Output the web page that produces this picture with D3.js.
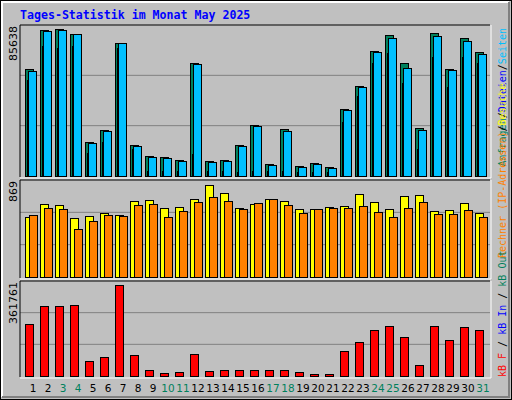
<!DOCTYPE html>
<html><head><meta charset="utf-8">
<script src="https://cdn.jsdelivr.net/npm/d3@7"></script>
<style>body{margin:0;background:#fff}</style>
</head><body>
<div id="chart"></div>
<script>
// daily values
const days = d3.range(1, 32);
const weekend = [3, 4, 10, 11, 17, 18, 24, 25, 31];
const hits = [62300, 85100, 85638, 82700, 19800, 26800, 77500, 18100, 11700, 11100, 9300, 65800, 8700, 9300, 18100, 29700, 7000, 27400, 5800, 7600, 5200, 39000, 52400, 72800, 82100, 65800, 28000, 83300, 62300, 80400, 72200];
const files = [55900, 75700, 74600, 75700, 13400, 19800, 74600, 15700, 2900, 2900, 2900, 12800, 2900, 2900, 2300, 2900, 2900, 2900, 2300, 2300, 2300, 31500, 46600, 65800, 71700, 54200, 15700, 69300, 51900, 69300, 65800];
const pages = [61200, 84500, 85100, 82700, 19200, 26200, 77500, 17500, 11100, 10500, 8700, 65300, 8200, 8700, 17500, 29100, 6400, 26200, 5200, 7000, 4700, 38500, 51900, 72200, 80400, 62900, 26800, 81600, 61800, 78700, 71100];
const visits = [567, 690, 680, 558, 576, 605, 586, 718, 728, 652, 662, 737, 869, 794, 652, 690, 737, 718, 643, 643, 662, 671, 784, 709, 643, 765, 775, 624, 633, 699, 605];
const sites = [586, 652, 643, 454, 529, 586, 576, 680, 690, 567, 624, 709, 756, 718, 643, 699, 737, 680, 605, 643, 652, 652, 671, 614, 567, 652, 709, 595, 595, 633, 567];
const kbytes = [206700, 278300, 278300, 282200, 59600, 75500, 361761, 83500, 23900, 11900, 15900, 87500, 19900, 23900, 23900, 23900, 23900, 23900, 15900, 8000, 8000, 99400, 135200, 182900, 198800, 155000, 43700, 198800, 143100, 194800, 182900];

const W = 512, H = 400;
const svg = d3.select("#chart").append("svg").attr("width", W).attr("height", H);

// frame
svg.append("rect").attr("x", 0).attr("y", 0).attr("width", W).attr("height", H).attr("fill", "#000");
svg.append("rect").attr("x", 1).attr("y", 1).attr("width", W - 2).attr("height", H - 2).attr("fill", "#c0c0c0");
svg.append("path").attr("d", "M2,397V2H509").attr("stroke", "#fff").attr("stroke-width", 2).attr("fill", "none");
svg.append("path").attr("d", "M2,397H509V2").attr("stroke", "#808080").attr("stroke-width", 2).attr("fill", "none");

svg.append("text").attr("x", 20).attr("y", 19)
    .attr("font-family", "DejaVu Sans Mono").attr("font-weight", "bold").attr("font-size", 11.6)
    .attr("fill", "#0000ff").text("Tages-Statistik im Monat May 2025");

const x = d3.scaleBand().domain(days).range([20, 485]);
const left = 20, right = 490;

function panel(top, bottom, maxVal, maxPx, label) {
    const y = d3.scaleLinear().domain([0, maxVal * (bottom - top) / maxPx]).range([bottom, top]);
    svg.append("rect").attr("x", left).attr("y", top).attr("width", right - left).attr("height", bottom - top + 1).attr("fill", "#c0c0c0");
    [1, 2].forEach(i => {
        const gy = bottom - (bottom - top) * i / 3;
        svg.append("line").attr("x1", left).attr("x2", right).attr("y1", gy).attr("y2", gy).attr("stroke", "#808080");
    });
    svg.append("path").attr("d", `M${left},${bottom + 1}V${top}H${right}`).attr("stroke", "#000").attr("fill", "none");
    svg.append("path").attr("d", `M${left},${bottom + 2}H${right + 1}V${top}`).attr("stroke", "#fff").attr("fill", "none");
    svg.append("text").attr("transform", `translate(${left - 3},${top + 1}) rotate(-90)`)
        .attr("text-anchor", "end").attr("font-family", "DejaVu Sans").attr("font-size", 11).attr("fill", "#000").text(label);
    return y;
}

function bars(y, data, dx, w, color) {
    svg.append("g").selectAll("rect").data(data).join("rect")
        .attr("x", (d, i) => x(days[i]) + dx + 0.5)
        .attr("y", d => Math.round(y(d)) + 0.5)
        .attr("width", w)
        .attr("height", d => Math.max(0, y.range()[0] - Math.round(y(d))))
        .attr("fill", color).attr("stroke", "#000");
}

const yTop = panel(25, 176, 85638, 147, "85638");
bars(yTop, hits, 5, 8, "#00805c");
bars(yTop, files, 7, 2, "#0000ff");
bars(yTop, pages, 8, 8, "#00c0ff");

const yMid = panel(180, 277, 869, 92, "869");
bars(yMid, visits, 5, 8, "#ffff00");
bars(yMid, sites, 9, 8, "#ff8000");

const yBot = panel(281, 376, 361761, 91, "361761");
bars(yBot, kbytes, 5, 8, "#ff0000");

// day labels
svg.append("g").selectAll("text").data(days).join("text")
    .attr("x", d => x(d) + 13).attr("y", 392).attr("text-anchor", "middle")
    .attr("font-family", "DejaVu Sans").attr("font-size", 10.5)
    .attr("fill", d => weekend.includes(d) ? "#00805c" : "#000").text(d => d);

// vertical legend
function legend(yPos, anchor, parts) {
    const t = svg.append("text").attr("transform", `translate(506,${yPos}) rotate(-90)`)
        .attr("text-anchor", anchor).attr("font-family", "DejaVu Sans Mono").attr("font-size", 10);
    parts.forEach(([s, c]) => t.append("tspan").attr("fill", c).text(s));
}
legend(28, "end", [["Anfragen", "#00805c"], ["/", "#000"], ["Dateien", "#0000ff"], ["/", "#000"], ["Seiten", "#00c0ff"]]);
legend(258, "start", [["Rechner (IP-Adressen)", "#ff8000"], ["/", "#000"], ["Besuche", "#ffff00"]]);
legend(377, "start", [["kB F", "#ff0000"], [" / ", "#000"], ["kB In", "#0000ff"], [" / ", "#000"], ["kB Out", "#00805c"]]);
</script>
</body></html>
